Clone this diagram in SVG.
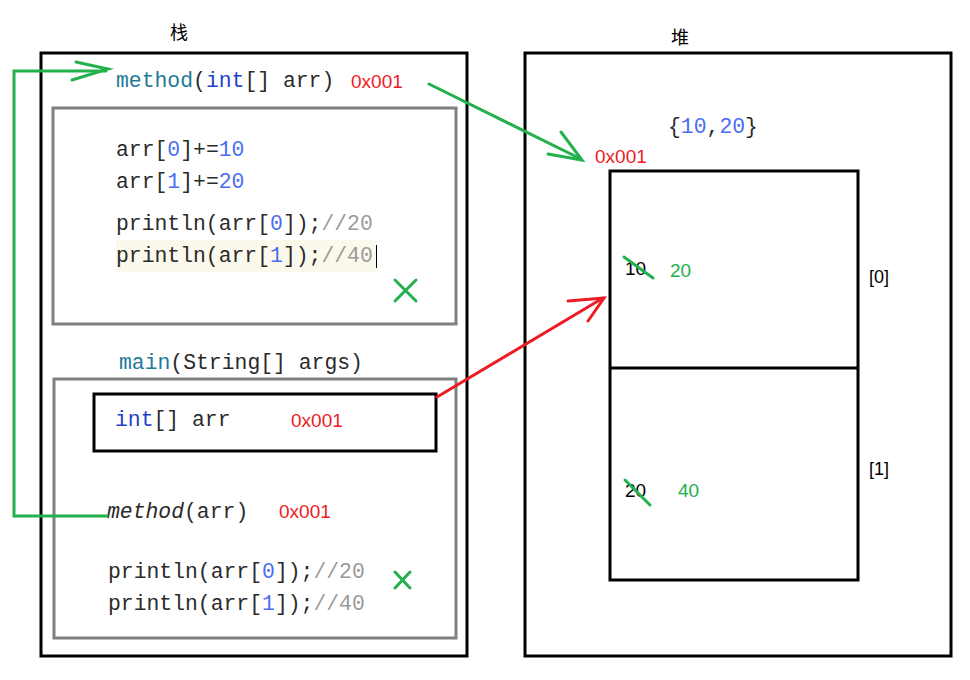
<svg xmlns="http://www.w3.org/2000/svg" width="970" height="680" viewBox="0 0 970 680">
  <style>
    .frame { fill: none; stroke: #000; stroke-width: 3; }
    .panel { fill: none; stroke: #808080; stroke-width: 3; }
    .code { font-family: "Liberation Mono", "Courier New", monospace; font-size: 21.4px; fill: #2a2a2a; }
    .kw { fill: #1f7a99; }
    .ty { fill: #1f3fc8; }
    .num { fill: #4a6cf0; }
    .cm { fill: #9a9a9a; }
    .addr { font-family: "Liberation Sans", Arial, sans-serif; font-size: 19px; fill: #ed1c24; }
    .label { font-family: "Liberation Sans", "Noto Sans CJK SC", sans-serif; font-size: 18px; fill: #000; }
    .val { font-family: "Liberation Sans", Arial, sans-serif; font-size: 19px; }
    .g { fill: none; stroke: #22b14c; stroke-width: 3; stroke-linecap: round; stroke-linejoin: miter; }
    .r { fill: none; stroke: #ed1c24; stroke-width: 3; stroke-linecap: round; }
  </style>

  <!-- stack frame -->
  <g id="stack">
    <text class="label" x="170" y="39">栈</text>
    <rect class="frame" x="41" y="53" width="426" height="603"/>
  </g>

  <!-- heap frame -->
  <g id="heap">
    <text class="label" x="671" y="44">堆</text>
    <rect class="frame" x="525" y="53" width="426" height="603"/>
  </g>

  <!-- method frame -->
  <g id="method-frame">
    <text class="code" x="116" y="87"><tspan class="kw">method</tspan>(<tspan class="ty">int</tspan>[] arr)</text>
    <text class="addr" x="351" y="88">0x001</text>
    <rect class="panel" x="53" y="108" width="403" height="216"/>
    <text class="code" x="116" y="156">arr[<tspan class="num">0</tspan>]+=<tspan class="num">10</tspan></text>
    <text class="code" x="116" y="188">arr[<tspan class="num">1</tspan>]+=<tspan class="num">20</tspan></text>
    <text class="code" x="116" y="230">println(arr[<tspan class="num">0</tspan>]);<tspan class="cm">//20</tspan></text>
    <rect x="116" y="240" width="260" height="32" fill="#fbf8ec"/>
    <text class="code" x="116" y="262">println(arr[<tspan class="num">1</tspan>]);<tspan class="cm">//40</tspan></text>
    <line x1="376.5" y1="245" x2="376.5" y2="268" stroke="#000" stroke-width="1"/>
    <path class="g" d="M395 280 L416 301 M416 280 L395 301"/>
  </g>

  <!-- main frame -->
  <g id="main-frame">
    <text class="code" x="119" y="369"><tspan class="kw">main</tspan>(String[] args)</text>
    <rect class="panel" x="54" y="379" width="402" height="259"/>
    <text class="code" x="107" y="518"><tspan font-style="italic">method</tspan>(arr)</text>
    <text class="addr" x="279" y="518">0x001</text>
    <text class="code" x="108" y="578">println(arr[<tspan class="num">0</tspan>]);<tspan class="cm">//20</tspan></text>
    <text class="code" x="108" y="610">println(arr[<tspan class="num">1</tspan>]);<tspan class="cm">//40</tspan></text>
    <path class="g" d="M395 572 L410 588 M410 572 L395 588"/>
  </g>

  <!-- local variable arr -->
  <g id="var-arr">
    <rect class="frame" x="94" y="394" width="342" height="57"/>
    <text class="code" x="115" y="426"><tspan class="ty">int</tspan>[] arr</text>
    <text class="addr" x="291" y="427">0x001</text>
  </g>

  <!-- array object on the heap -->
  <g id="array">
    <text class="code" x="668" y="133">{<tspan class="num">10</tspan>,<tspan class="num">20</tspan>}</text>
    <text class="addr" x="595" y="163">0x001</text>
    <rect class="frame" x="610" y="171" width="248" height="409"/>
    <line x1="610" y1="368" x2="858" y2="368" stroke="#000" stroke-width="3"/>
    <text class="val" x="625" y="275" fill="#000">10</text>
    <line class="g" x1="624" y1="257" x2="653" y2="278"/>
    <text class="val" x="670" y="277" fill="#22b14c">20</text>
    <text class="label" x="869" y="283">[0]</text>
    <text class="val" x="625" y="497" fill="#000">20</text>
    <line class="g" x1="625" y1="480" x2="650" y2="505"/>
    <text class="val" x="678" y="497" fill="#22b14c">40</text>
    <text class="label" x="869" y="475">[1]</text>
  </g>

  <!-- connectors -->
  <g id="connectors">
    <path class="g" d="M107 516 H14 V71 H106"/>
    <path class="g" d="M76 62 L108 69 L72 80"/>
    <path class="g" d="M429 84 L581 159"/>
    <path class="g" d="M561 132 L582 160 L548 154"/>
    <path class="r" d="M437 397 L603 298"/>
    <path class="r" d="M568 301 L604 298 L588 321"/>
  </g>
</svg>
